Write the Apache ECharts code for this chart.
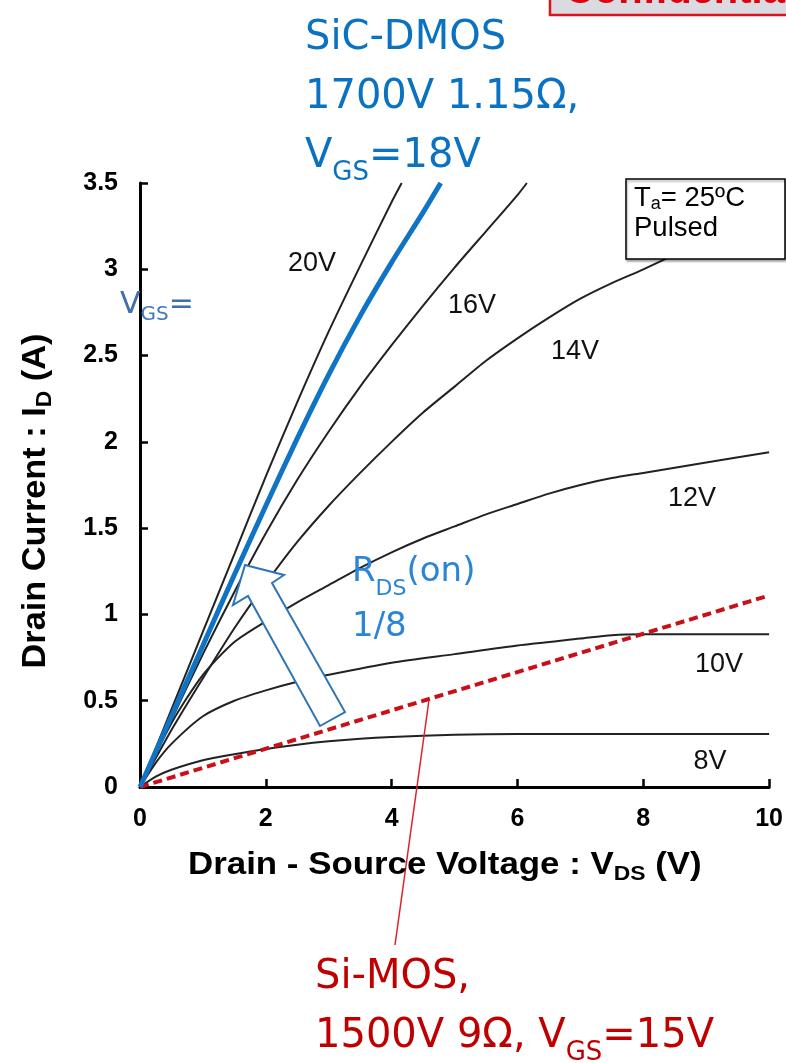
<!DOCTYPE html>
<html><head><meta charset="utf-8">
<script src="https://cdn.jsdelivr.net/npm/echarts@6/dist/echarts.min.js"></script>
<style>html,body{margin:0;padding:0;background:#fff}#c{width:786px;height:1063px}</style>
</head><body><div id="c"></div>
<script>
// ---- data (V_DS [V], I_D [A]) ----
const xTicks = [0, 2, 4, 6, 8, 10];
const yTicks = [0, 0.5, 1, 1.5, 2, 2.5, 3, 3.5];
const curveNames = ['20V', '16V', '14V', '12V', '10V', '8V'];
const vgs20 = [[0,0],[0.5,0.45],[1,0.9],[1.5,1.35],[2,1.8],[2.5,2.23],[3,2.64],[3.5,3.02],[4,3.39],[4.16,3.5]];
const vgs16 = [[0,0],[0.5,0.39],[1,0.77],[1.5,1.13],[2,1.47],[2.5,1.78],[3,2.06],[3.5,2.32],[4,2.56],[4.5,2.79],[5,3.01],[5.5,3.22],[6,3.43],[6.15,3.5]];
const vgs14 = [[0,0],[0.5,0.33],[1,0.63],[1.5,0.92],[2,1.18],[2.5,1.42],[3,1.63],[3.5,1.82],[4,2.0],[4.5,2.17],[5,2.32],[5.5,2.47],[6,2.6],[6.5,2.72],[7,2.83],[7.5,2.92],[8,3.0],[9,3.17],[10,3.33]];
const vgs12 = [[0,0],[0.5,0.37],[1,0.65],[1.5,0.84],[2,0.96],[2.5,1.07],[3,1.17],[3.5,1.27],[4,1.36],[4.5,1.44],[5,1.51],[5.5,1.58],[6,1.64],[6.5,1.70],[7,1.75],[7.5,1.79],[8,1.82],[9,1.88],[10,1.94]];
const vgs10 = [[0,0],[0.25,0.14],[0.5,0.25],[1,0.41],[1.5,0.5],[2,0.56],[2.5,0.61],[3,0.65],[4,0.72],[5,0.77],[6,0.82],[7,0.86],[7.5,0.88],[8,0.885],[9,0.885],[10,0.885]];
const vgs8  = [[0,0],[0.25,0.06],[0.5,0.1],[1,0.155],[1.5,0.19],[2,0.22],[2.5,0.245],[3,0.265],[3.5,0.28],[4,0.29],[5,0.303],[6,0.307],[7,0.307],[8,0.307],[9,0.307],[10,0.307]];
const sicDmos18 = [[0,0],[0.5,0.41],[1,0.82],[1.5,1.23],[2,1.63],[2.5,2.02],[3,2.39],[3.5,2.73],[4,3.04],[4.5,3.33],[4.78,3.5]];
const siMos15 = [[0,0],[10,1.11]];

const chart = echarts.init(document.getElementById('c'), null, {renderer:'canvas'});
const AX = 'Liberation Sans, Arial, sans-serif';
const VF = 'DejaVu Sans, Verdana, sans-serif';

function blackLine(name, data){
  return {name, type:'line', data, showSymbol:false, smooth:0.25,
    lineStyle:{color:'#222', width:2}, z:2};
}
function lbl(text, x, y){
  return {type:'text', x, y, z:120, style:{text, fill:'#111', font:'27px ' + AX,
    align:'center', verticalAlign:'middle', textAlign:'center', textVerticalAlign:'middle'}};
}

const option = {
  animation:false,
  backgroundColor:'#fff',
  grid:{left:140, right:12, top:183, bottom:276, containLabel:false},
  xAxis:{type:'value', min:0, max:10, interval:2,
    axisLine:{show:true, onZero:false, lineStyle:{color:'#000', width:3}},
    axisTick:{show:true, inside:true, length:8, lineStyle:{color:'#000', width:2.5}},
    axisLabel:{color:'#000', fontSize:25, fontWeight:'bold', fontFamily:AX, margin:20,
      formatter:v => xTicks.includes(v) ? String(v) : ''},
    splitLine:{show:false}},
  yAxis:{type:'value', min:0, max:3.5, interval:0.5,
    axisLine:{show:true, onZero:false, lineStyle:{color:'#000', width:3}},
    axisTick:{show:true, inside:true, length:8, lineStyle:{color:'#000', width:2.5}},
    axisLabel:{color:'#000', fontSize:25, fontWeight:'bold', fontFamily:AX, margin:22,
      formatter:v => yTicks.includes(v) ? String(v) : ''},
    splitLine:{show:false}},
  series:[
    blackLine('20V', vgs20),
    blackLine('16V', vgs16),
    blackLine('14V', vgs14),
    blackLine('12V', vgs12),
    blackLine('10V', vgs10),
    blackLine('8V', vgs8),
    {name:'Si-MOS', type:'line', data:siMos15, showSymbol:false,
      lineStyle:{color:'#c81018', width:4, type:[9,5]}, z:3},
    {name:'SiC-DMOS', type:'line', data:sicDmos18, showSymbol:false, smooth:0.25,
      lineStyle:{color:'#0f73c6', width:5}, z:4}
  ],
  graphic:[
    // Confidential box (cut at top)
    {type:'rect', z:100, shape:{x:550, y:-40, width:260, height:55},
      style:{fill:'#d9dbe0', stroke:'#e0101e', lineWidth:2.5}},
    {type:'text', x:565, y:-8, z:110, style:{text:'Confidential', fill:'#e00010',
      font:'bold 40px ' + AX, align:'left', verticalAlign:'middle', textAlign:'left', textVerticalAlign:'middle'}},
    // Ta box
    {type:'rect', z:100, shape:{x:626, y:179, width:159, height:80},
      style:{fill:'#fff', stroke:'#000', lineWidth:1.5, shadowBlur:2, shadowOffsetX:1, shadowOffsetY:2, shadowColor:'rgba(0,0,0,0.3)'}},
    {type:'text', x:634, y:183, z:110, style:{
      text:'{m|T}{s|a}{m|= 25ºC}\n{m|Pulsed}',
      align:'left', verticalAlign:'top', textAlign:'left', textVerticalAlign:'top',
      rich:{m:{fontSize:27.5, fontFamily:AX, fill:'#000', color:'#000', lineHeight:30, verticalAlign:'middle'},
            s:{fontSize:18, fontFamily:AX, fill:'#000', color:'#000', lineHeight:18, verticalAlign:'bottom'}}}},
    // arrow
    {type:'polygon', z:100, shape:{points:[[245,565],[284,575],[272,583],[345,712],[320,726],[248,596],[233,605]]},
      style:{fill:'#fff', stroke:'#2e75b6', lineWidth:2}},
    // leader line
    {type:'line', z:100, shape:{x1:429, y1:700, x2:395, y2:945}, style:{stroke:'#e0202a', lineWidth:1.5}},
    // curve labels
    lbl('20V', 312, 264), lbl('16V', 472, 306), lbl('14V', 575, 352),
    lbl('12V', 692, 499), lbl('10V', 719, 665), lbl('8V', 710, 762),
    // VGS= near axis
    {type:'text', x:120, y:285, z:110, style:{text:'{m|V}{s|GS}{m|=}',
      align:'left', verticalAlign:'top', textAlign:'left', textVerticalAlign:'top',
      rich:{m:{fontSize:30, fontFamily:VF, fill:'#3f6fae', color:'#3f6fae', lineHeight:40, verticalAlign:'middle'},
            s:{fontSize:20, fontFamily:VF, fill:'#3f78c0', color:'#3f78c0', lineHeight:20, verticalAlign:'bottom'}}}},
    // SiC-DMOS annotation
    {type:'text', x:305, y:9, z:110, style:{text:'{m|SiC-DMOS}\n{m|1700V 1.15Ω,}\n{m|V}{s|GS}{m|=18V}',
      align:'left', verticalAlign:'top', textAlign:'left', textVerticalAlign:'top',
      rich:{m:{fontSize:40, fontFamily:VF, fill:'#0b72c2', color:'#0b72c2', lineHeight:59, verticalAlign:'middle'},
            s:{fontSize:26, fontFamily:VF, fill:'#0b72c2', color:'#0b72c2', lineHeight:26, verticalAlign:'bottom'}}}},
    // RDS(on) 1/8
    {type:'text', x:352, y:545, z:110, style:{text:'{m|R}{s|DS}{m|(on)}\n{m|1/8}',
      align:'left', verticalAlign:'top', textAlign:'left', textVerticalAlign:'top',
      rich:{m:{fontSize:34, fontFamily:VF, fill:'#2a85d6', color:'#2a85d6', lineHeight:55, verticalAlign:'middle'},
            s:{fontSize:22, fontFamily:VF, fill:'#2a85d6', color:'#2a85d6', lineHeight:22, verticalAlign:'bottom'}}}},
    // Si-MOS annotation
    {type:'text', x:315, y:948, z:110, style:{text:'{m|Si-MOS,}\n{m|1500V 9Ω, V}{s|GS}{m|=15V}',
      align:'left', verticalAlign:'top', textAlign:'left', textVerticalAlign:'top',
      rich:{m:{fontSize:40, fontFamily:VF, fill:'#c00000', color:'#c00000', lineHeight:59, verticalAlign:'middle'},
            s:{fontSize:26, fontFamily:VF, fill:'#c00000', color:'#c00000', lineHeight:26, verticalAlign:'bottom'}}}},
    // axis titles
    {type:'text', x:188, y:845, scaleX:1.09, z:110, style:{text:'{b|Drain - Source Voltage : V}{s|DS}{b| (V)}',
      align:'left', verticalAlign:'top', textAlign:'left', textVerticalAlign:'top',
      rich:{b:{fontSize:32, fontWeight:'bold', fontFamily:AX, fill:'#000', color:'#000', lineHeight:40, verticalAlign:'middle'},
            s:{fontSize:21, fontWeight:'bold', fontFamily:AX, fill:'#000', color:'#000', lineHeight:21, verticalAlign:'bottom'}}}},
    {type:'text', x:36, y:501, rotation:Math.PI/2, scaleX:1.04, z:110, style:{text:'{b|Drain Current : I}{s|D}{b| (A)}',
      align:'center', verticalAlign:'middle', textAlign:'center', textVerticalAlign:'middle',
      rich:{b:{fontSize:33, fontWeight:'bold', fontFamily:AX, fill:'#000', color:'#000', lineHeight:40, verticalAlign:'middle'},
            s:{fontSize:22, fontWeight:'bold', fontFamily:AX, fill:'#000', color:'#000', lineHeight:22, verticalAlign:'bottom'}}}}
  ]
};
chart.setOption(option);
</script></body></html>
